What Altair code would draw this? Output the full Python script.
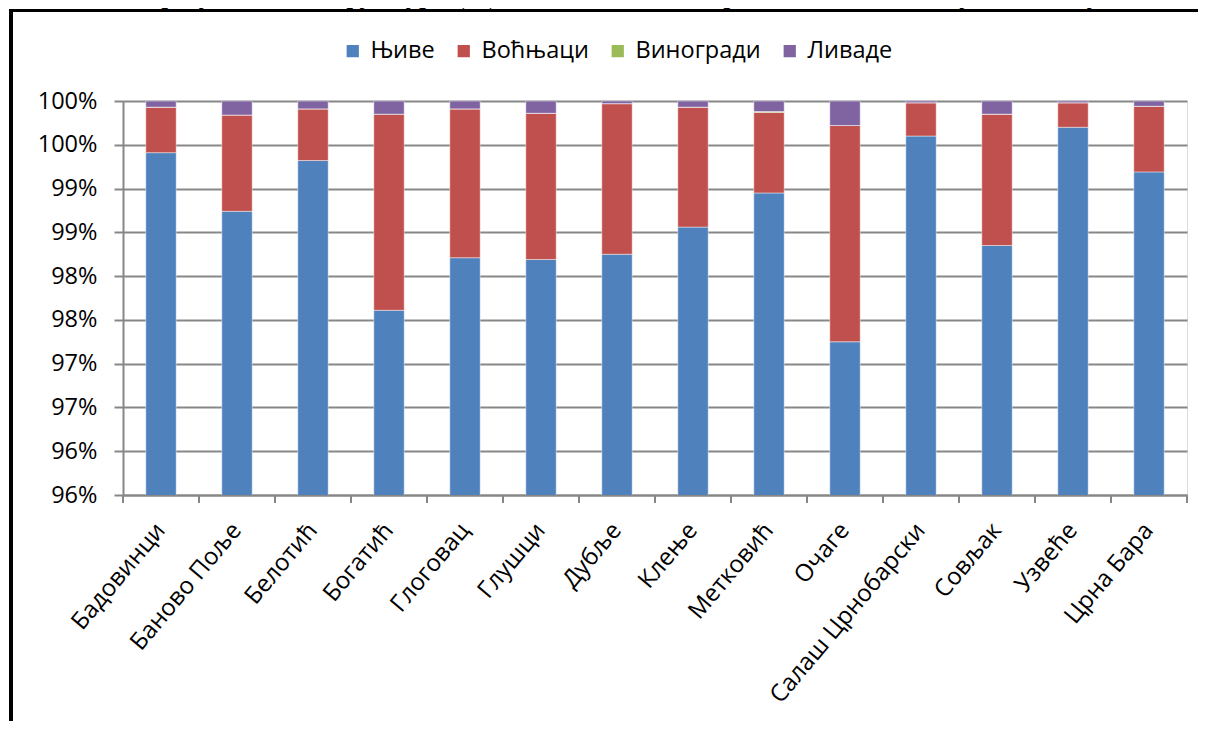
import altair as alt
import pandas as pd

categories = ["Бадовинци", "Баново Поље", "Белотић", "Богатић", "Глоговац", "Глушци",
              "Дубље", "Клење", "Метковић", "Очаге", "Салаш Црнобарски", "Совљак",
              "Узвеће", "Црна Бара"]
series = ["Њиве", "Воћњаци", "Виногради", "Ливаде"]
colors = ["#4F81BD", "#C0504D", "#9BBB59", "#8064A2"]

njive = [99.41, 98.74, 99.32, 97.61, 98.21, 98.19, 98.25, 98.56, 98.95, 97.25, 99.60, 98.35, 99.70, 99.19]
vocnjaci = [0.52, 1.10, 0.59, 2.24, 1.70, 1.67, 1.72, 1.37, 0.92, 2.47, 0.38, 1.50, 0.28, 0.75]
vinogradi = [0, 0, 0, 0, 0, 0, 0, 0, 0.01, 0, 0, 0, 0, 0]
livade = [0.07, 0.16, 0.09, 0.15, 0.09, 0.14, 0.03, 0.07, 0.12, 0.28, 0.02, 0.15, 0.02, 0.06]

y_ticks = [95.5, 96.0, 96.5, 97.0, 97.5, 98.0, 98.5, 99.0, 99.5, 100.0]
title_text = "Графикон 2: Структура (%) ЊИЗ по катастарским општинама у Богатићу"

rows = []
for s_i, (name, vals) in enumerate(zip(series, [njive, vocnjaci, vinogradi, livade])):
    for c, v in zip(categories, vals):
        rows.append({"cat": c, "series": name, "value": v, "ord": s_i})
df = pd.DataFrame(rows)
cat_df = pd.DataFrame({"cat": categories})

W, H = 1064, 394
STEP = W / len(categories)
FONT = "Open Sans"
GRID = "#878787"

x_enc = alt.X("cat:N", sort=categories, title=None,
              scale=alt.Scale(paddingInner=0.6, paddingOuter=0.3),
              axis=alt.Axis(labelAngle=-50, labelAlign="right", labelBaseline="middle",
                            labelFont=FONT, labelFontSize=24, labelColor="black",
                            labelPadding=31, ticks=False,
                            domainColor=GRID, domainWidth=2, grid=False, labelLimit=400))

bars = alt.Chart(df).mark_bar(clip=True, stroke="white", strokeWidth=0.8, strokeOpacity=0.55).encode(
    x=x_enc,
    y=alt.Y("value:Q", stack="zero", title=None,
            scale=alt.Scale(domain=[95.5, 100], zero=False, nice=False),
            axis=alt.Axis(values=y_ticks, labelExpr="round(datum.value) + '%'",
                          labelFont=FONT, labelFontSize=23.5, labelColor="black",
                          labelPadding=17, tickSize=9, tickColor=GRID, tickWidth=2,
                          domainColor=GRID, domainWidth=2, grid=True,
                          gridColor=GRID, gridWidth=2)),
    color=alt.Color("series:N", sort=series,
                    scale=alt.Scale(domain=series, range=colors),
                    legend=alt.Legend(title=None, orient="none", legendX=218, legendY=-62,
                                      direction="horizontal", symbolType="square",
                                      symbolSize=150, symbolStrokeWidth=0,
                                      labelFont=FONT, labelFontSize=23.5, labelColor="black",
                                      labelOffset=6, columnPadding=17, padding=0)),
    order=alt.Order("ord:Q", sort="ascending"),
)

x_ticks = alt.Chart(cat_df).mark_rule(color=GRID, strokeWidth=2, xOffset=-STEP / 2).encode(
    x=alt.X("cat:N", sort=categories), y=alt.value(H), y2=alt.value(H + 8))
x_tick_end = alt.Chart(cat_df).mark_rule(color=GRID, strokeWidth=2).encode(
    x=alt.value(W), y=alt.value(H), y2=alt.value(H + 8))

frame_left = alt.Chart(cat_df).mark_rule(color="black", strokeWidth=4).encode(
    x=alt.value(-112), y=alt.value(-91), y2=alt.value(H + 400))
frame_top = alt.Chart(cat_df).mark_rule(color="black", strokeWidth=3).encode(
    x=alt.value(-114), x2=alt.value(W + 200), y=alt.value(-90.5))

title = alt.Chart(pd.DataFrame({"t": [title_text]})).mark_text(
    font="Liberation Serif", fontStyle="italic", fontSize=29, baseline="alphabetic",
    align="center", color="black").encode(
    text="t:N", x=alt.value(502), y=alt.value(-98))

chart = alt.layer(bars, x_ticks, x_tick_end, frame_left, frame_top, title).properties(
    width=W, height=H,
    autosize=alt.AutoSizeParams(type="none"),
    padding={"left": 115, "top": 93, "right": 11, "bottom": 226},
).configure_view(stroke=None).configure(background="white")

chart.save("out.html", embed_options={"renderer": "svg", "actions": False})
